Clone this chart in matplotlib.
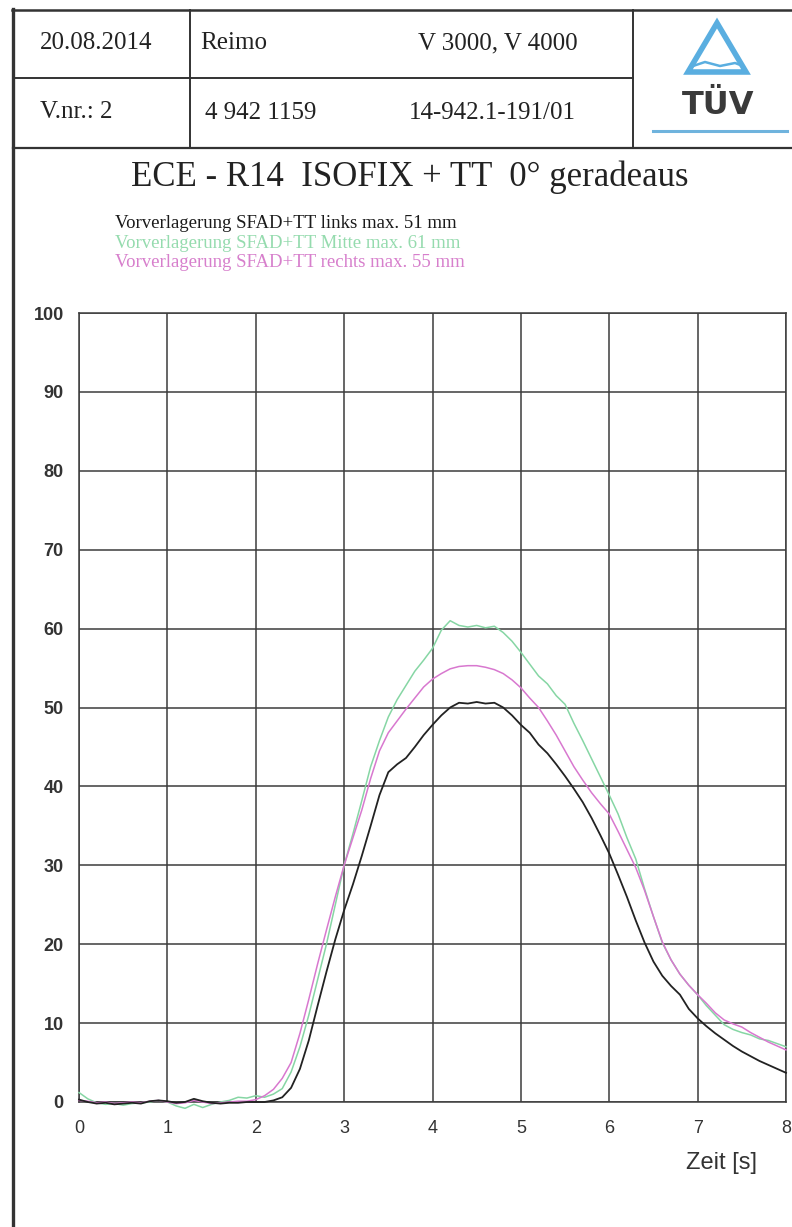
import matplotlib
matplotlib.use("Agg")
import matplotlib.pyplot as plt
from matplotlib.lines import Line2D
from matplotlib.patches import Polygon

# ---------------- data ----------------
zeit = [round(0.1 * i, 1) for i in range(81)]

links = [0.3, 0.0, -0.2, -0.1, -0.3, -0.2, -0.1, -0.2, 0.1, 0.2,
         0.1, -0.1, 0.0, 0.4, 0.1, -0.1, -0.2, -0.1, -0.1, 0.0,
         0.0, 0.0, 0.2, 0.6, 1.8, 4.2, 7.8, 12.2, 16.5, 20.6,
         24.3, 27.6, 31.2, 35.0, 38.9, 41.8, 42.8, 43.6, 45.0, 46.5,
         47.8, 49.0, 50.0, 50.6, 50.5, 50.7, 50.5, 50.6, 50.0, 49.0,
         47.8, 46.8, 45.3, 44.2, 42.8, 41.3, 39.7, 38.0, 36.0, 33.8,
         31.5, 28.8, 26.0, 23.0, 20.2, 17.8, 16.0, 14.7, 13.6, 11.8,
         10.6, 9.6, 8.7, 7.9, 7.1, 6.4, 5.8, 5.2, 4.7, 4.2, 3.7]

mitte = [1.2, 0.4, -0.1, -0.3, -0.2, -0.4, -0.2, -0.1, 0.0, 0.2,
         0.0, -0.5, -0.8, -0.3, -0.7, -0.3, 0.0, 0.2, 0.6, 0.5,
         0.8, 0.6, 1.0, 1.7, 3.8, 7.0, 11.0, 15.5, 20.0, 25.0,
         30.0, 34.0, 38.2, 42.5, 45.8, 48.8, 51.0, 52.8, 54.6, 56.0,
         57.5, 59.8, 61.0, 60.4, 60.2, 60.4, 60.1, 60.3, 59.5, 58.4,
         57.0, 55.5, 54.0, 53.0, 51.5, 50.4, 48.0, 45.8, 43.5, 41.2,
         38.9, 36.5, 33.5, 30.8, 27.0, 23.5, 20.2, 18.0, 16.2, 14.8,
         13.6, 12.2, 11.0, 9.8, 9.2, 8.8, 8.5, 8.0, 7.8, 7.4, 7.0]

rechts = [0.2, 0.1, -0.1, 0.0, -0.2, -0.1, 0.0, -0.1, 0.1, 0.2,
          0.0, -0.2, -0.1, 0.2, 0.0, -0.2, -0.1, 0.0, 0.1, 0.1,
          0.3, 0.8, 1.6, 3.0, 5.0, 8.7, 13.0, 17.5, 21.8, 26.0,
          30.0, 33.5, 37.0, 41.0, 44.5, 46.8, 48.3, 49.8, 51.2, 52.6,
          53.6, 54.3, 54.9, 55.2, 55.3, 55.3, 55.1, 54.8, 54.3, 53.5,
          52.5, 51.2, 50.0, 48.3, 46.5, 44.5, 42.5, 40.8, 39.2, 37.8,
          36.5, 34.3, 32.0, 29.7, 26.8, 23.5, 20.3, 18.0, 16.2, 14.8,
          13.6, 12.5, 11.3, 10.4, 9.9, 9.5, 8.8, 8.2, 7.6, 7.1, 6.6]

legend_labels = ["Vorverlagerung SFAD+TT links max. 51 mm",
                 "Vorverlagerung SFAD+TT Mitte max. 61 mm",
                 "Vorverlagerung SFAD+TT rechts max. 55 mm"]
x_ticks = [0, 1, 2, 3, 4, 5, 6, 7, 8]
y_ticks = [0, 10, 20, 30, 40, 50, 60, 70, 80, 90, 100]

header_row1 = ["20.08.2014", "Reimo", "V 3000, V 4000"]
header_row2 = ["V.nr.: 2", "4 942 1159", "14-942.1-191/01"]
title = "ECE - R14  ISOFIX + TT  0° geradeaus"

# ---------------- figure ----------------
W, H = 792, 1227
fig = plt.figure(figsize=(W / 100, H / 100), dpi=100)
fig.patch.set_facecolor("white")

def fx(x):
    return x / W

def fy(y):
    return 1 - y / H

def hline(x0, x1, y, lw=1.6, c="#333333"):
    fig.add_artist(Line2D([fx(x0), fx(x1)], [fy(y), fy(y)], lw=lw, color=c,
                          transform=fig.transFigure))

def vline(x, y0, y1, lw=1.6, c="#333333"):
    fig.add_artist(Line2D([fx(x), fx(x)], [fy(y0), fy(y1)], lw=lw, color=c,
                          transform=fig.transFigure))

SERIF = "Liberation Serif"
SANS = "Liberation Sans"

# page frame / header table
hline(12, W, 10, lw=1.8)
vline(13, 9, H, lw=2.4)
hline(13, 633, 78, lw=1.4)
hline(13, W, 148, lw=1.6)
vline(190, 10, 148, lw=1.4)
vline(633, 10, 148, lw=1.4)

fs_head = 18
tc = "#222222"
fig.text(fx(40), fy(43), header_row1[0], fontsize=fs_head, family=SERIF,
         ha="left", va="center", color=tc)
fig.text(fx(200), fy(43), header_row1[1], fontsize=fs_head, family=SERIF,
         ha="left", va="center", color=tc)
fig.text(fx(498), fy(43), header_row1[2], fontsize=fs_head, family=SERIF,
         ha="center", va="center", color=tc)
fig.text(fx(40), fy(112), header_row2[0], fontsize=fs_head, family=SERIF,
         ha="left", va="center", color=tc)
fig.text(fx(261), fy(113), header_row2[1], fontsize=fs_head, family=SERIF,
         ha="center", va="center", color=tc)
fig.text(fx(492), fy(113), header_row2[2], fontsize=fs_head, family=SERIF,
         ha="center", va="center", color=tc)

# TÜV logo
blue = "#5aaee0"
tri = Polygon([[fx(717), fy(23)], [fx(688), fy(72)], [fx(746), fy(72)]],
              closed=True, fill=False, edgecolor=blue, lw=4.0,
              transform=fig.transFigure, joinstyle="miter")
fig.add_artist(tri)
fig.add_artist(Line2D([fx(693), fx(705), fx(720), fx(735), fx(743)],
                      [fy(66), fy(62), fy(66), fy(63), fy(66)],
                      lw=1.8, color=blue, transform=fig.transFigure))
fig.text(fx(718), fy(105), "TÜV", fontsize=23, family="DejaVu Sans",
         weight="bold", ha="center", va="center", color="#3a3a3a")
hline(653, 787, 131, lw=2.2, c="#6fb3dd")

# title
fig.text(fx(410), fy(177), title, fontsize=25, family=SERIF,
         ha="center", va="center", color=tc)

# legend texts
leg_colors = ["#1a1a1a", "#95dbae", "#d77fcc"]
for i, (lab, c) in enumerate(zip(legend_labels, leg_colors)):
    fig.text(fx(115), fy(223 + 20 * i), lab, fontsize=13.5, family=SERIF,
             ha="left", va="center", color=c)

# ---------------- axes ----------------
ax = fig.add_axes([fx(79), fy(1102), fx(786) - fx(79), fy(313) - fy(1102)])
line_colors = ["#222222", "#86d6a4", "#d878cf"]
ax.plot(zeit, mitte, color=line_colors[1], lw=1.1, zorder=3, clip_on=False)
ax.plot(zeit, rechts, color=line_colors[2], lw=1.1, zorder=4, clip_on=False)
ax.plot(zeit, links, color=line_colors[0], lw=1.3, zorder=5, clip_on=False)

ax.set_xlim(0, 8)
ax.set_ylim(0, 100)
ax.set_xticks(x_ticks)
ax.set_yticks(y_ticks)
ax.set_xticklabels([str(v) for v in x_ticks], fontsize=13, family=SANS,
                   color="#333333")
ax.set_yticklabels([str(v) for v in y_ticks], fontsize=13, family=SANS,
                   weight="bold", color="#333333")
ax.tick_params(axis="x", length=0, pad=13)
ax.tick_params(axis="y", length=0, pad=11)
ax.grid(True, color="#3c3c3c", lw=1.1, zorder=1)
for s in ax.spines.values():
    s.set_color("#3c3c3c")
    s.set_linewidth(1.1)
ax.set_axisbelow(True)

fig.text(fx(722), fy(1163), "Zeit [s]", fontsize=17, family=SANS,
         ha="center", va="center", color="#333333")

fig.savefig("out.png", dpi=100)
